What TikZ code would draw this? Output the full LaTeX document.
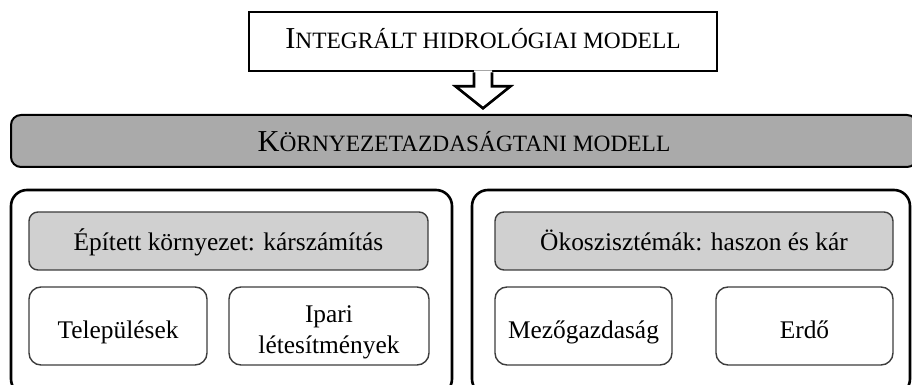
\documentclass[tikz,border=0pt]{standalone}
\usepackage{fontspec}
\setmainfont{Liberation Serif}
\usetikzlibrary{positioning}

% hand made small caps (first letter big, rest small)
\newcommand{\fakesc}[2]{{\fontsize{15.2}{18}\selectfont #1}{\fontsize{11.7}{14}\selectfont #2}}

\definecolor{bannergray}{RGB}{170,170,170}
\definecolor{boxgray}{RGB}{208,208,208}
\definecolor{edgegray}{RGB}{60,60,60}

\begin{document}
\begin{tikzpicture}[x=0.5pt, y=-0.5pt,
    topbox/.style={draw, line width=1.3pt, minimum width=234pt, minimum height=29.5pt, inner sep=0pt, text height=7pt, text depth=0pt},
    banner/.style={draw, line width=1pt, fill=bannergray, rounded corners=5pt, minimum width=453pt, minimum height=26pt, inner sep=0pt, text height=11pt, text depth=0pt},
    groupbox/.style={draw, line width=1.3pt, rounded corners=8pt, minimum height=102.5pt, inner sep=0pt},
    headbox/.style={draw=edgegray, line width=0.7pt, fill=boxgray, rounded corners=4.5pt, minimum width=199.5pt, minimum height=29pt, inner sep=0pt, text height=9pt, text depth=0pt, font=\fontsize{12.7}{15.5}\selectfont},
    itembox/.style={draw=edgegray, line width=0.7pt, rounded corners=6pt, minimum height=39pt, inner sep=0pt, align=center, font=\fontsize{12.7}{15.5}\selectfont},
    oneline/.style={text height=12pt, text depth=0pt}
]
    \useasboundingbox (0,0) rectangle (912,385);

    % top model and the banner below it
    \node[topbox] (hydro) at (483,41.5) {\fakesc{I}{NTEGRÁLT HIDROLÓGIAI MODELL}};
    \node[banner] (envecon) at (464,141) {\fakesc{K}{ÖRNYEZETAZDASÁGTANI MODELL}};

    % hollow block arrow hanging from the top box
    \fill[white] ([xshift=-4.5pt,yshift=1pt]hydro.south) -- ([xshift=-4.5pt,yshift=-7pt]hydro.south)
        -- ([xshift=-13.75pt,yshift=-7pt]hydro.south) -- ([yshift=-18pt]hydro.south)
        -- ([xshift=13.75pt,yshift=-7pt]hydro.south) -- ([xshift=4.5pt,yshift=-7pt]hydro.south)
        -- ([xshift=4.5pt,yshift=1pt]hydro.south) -- cycle;
    \draw[line width=1.3pt, line join=miter] ([xshift=-4.5pt]hydro.south) -- ([xshift=-4.5pt,yshift=-7pt]hydro.south)
        -- ([xshift=-13.75pt,yshift=-7pt]hydro.south) -- ([yshift=-18pt]hydro.south)
        -- ([xshift=13.75pt,yshift=-7pt]hydro.south) -- ([xshift=4.5pt,yshift=-7pt]hydro.south)
        -- ([xshift=4.5pt]hydro.south);

    % the two groups
    \node[groupbox, minimum width=220.5pt] (built) at (231.5,292.5) {};
    \node[groupbox, minimum width=219pt] (eco) at (691,292.5) {};

    % built environment
    \node[headbox] (builthead) at (228.5,241) {Épített környezet: kárszámítás};
    \node[itembox, oneline, minimum width=89pt] (towns) at (118,326) {Települések};
    \node[itembox, minimum width=100pt] (industry) at (329,326) {\rule{0pt}{14.4pt}Ipari\\létesítmények};

    % ecosystems
    \node[headbox, minimum width=199pt] (ecohead) at (694,241) {Ökoszisztémák: haszon és kár};
    \node[itembox, oneline, minimum width=88.5pt] (agri) at (583.5,326) {Mezőgazdaság};
    \node[itembox, oneline, minimum width=88.5pt] (forest) at (804.5,326) {Erdő};
\end{tikzpicture}
\end{document}
